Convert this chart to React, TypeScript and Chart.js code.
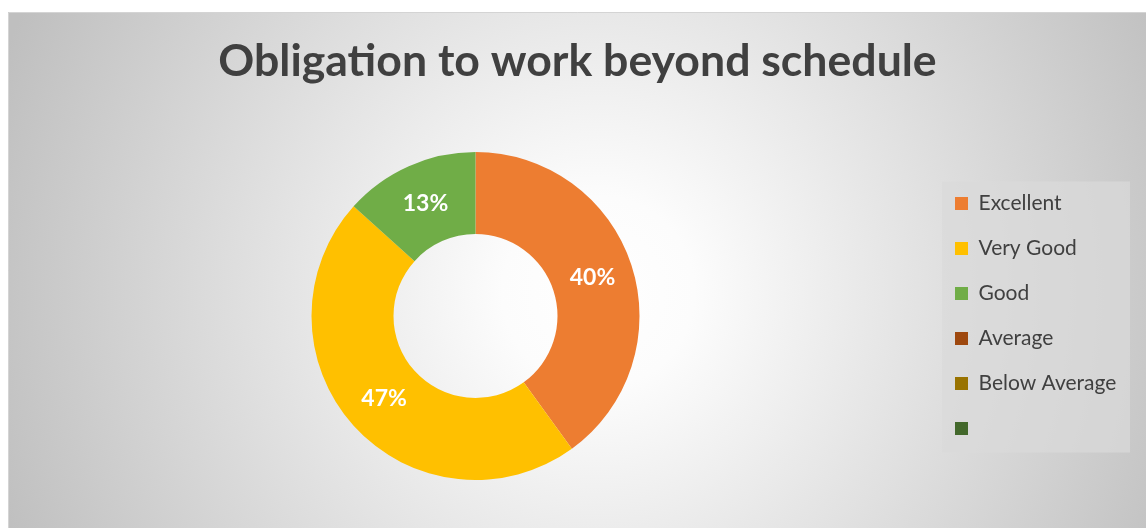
import React, { useEffect, useRef } from "react";
import { Chart, registerables } from "chart.js";
Chart.register(...registerables);

const TITLE = "Obligation to work beyond schedule";
const categories = ["Excellent", "Very Good", "Good", "Average", "Below Average", ""];
const counts = [12, 14, 4, 0, 0, 0];
const colors = ["#ED7D31", "#FFC000", "#70AD47", "#9E480E", "#997300", "#43682B"];

const W = 1138;
const H = 516;
const FONT = "Lato";

function measure(font: string, text: string): number {
  const c = document.createElement("canvas").getContext("2d") as CanvasRenderingContext2D;
  c.font = font;
  return c.measureText(text).width;
}

export default function App() {
  const ref = useRef<HTMLCanvasElement>(null);

  useEffect(() => {
    if (!ref.current) return;
    const titleW = measure(`bold 100px ${FONT}`, TITLE);
    const titleSize = Math.round((100 * 719) / titleW * 10) / 10;
    const titleLH = 1.2 * titleSize;
    const titlePadTop = 50 - titleLH / 2;
    const titlePadBottom = 140 - titlePadTop - titleLH;
    const titleCenter = 569.5;

    const legendSize = 21;
    const legendPadding = 24;
    const boxW = 13;
    const tw = Math.max(...categories.map((c) => measure(`${legendSize}px ${FONT}`, c)));
    const legendLeft = 923;
    const legendWidth = legendPadding + boxW + legendSize / 2 + tw + 10;
    const padRight = W - legendLeft - legendWidth;
    const padLeft = 2 * 467.5 - legendLeft;

    const bgPlugin = {
      id: "bg",
      afterLayout(chart: any) {
        const t = chart.titleBlock;
        if (t) {
          const half = Math.min(titleCenter - t.left, t.right - titleCenter);
          t.left = titleCenter - half;
          t.right = titleCenter + half;
        }
      },
      beforeDraw(chart: any) {
        const ctx = chart.ctx as CanvasRenderingContext2D;
        ctx.save();
        const cx = 590, cy = 280;
        const g = ctx.createRadialGradient(cx, cy, 0, cx, cy, 640);
        g.addColorStop(0, "#ffffff");
        g.addColorStop(0.15, "#fcfcfc");
        g.addColorStop(1, "#bfbfbf");
        ctx.fillStyle = g;
        ctx.fillRect(0, 0, chart.width, chart.height);
        ctx.strokeStyle = "#d4d4d4";
        ctx.lineWidth = 1;
        ctx.beginPath();
        ctx.moveTo(0.5, chart.height);
        ctx.lineTo(0.5, 0.5);
        ctx.lineTo(chart.width, 0.5);
        ctx.stroke();
        const lg = chart.legend;
        const hb = lg && lg.legendHitBoxes;
        if (hb && hb.length) {
          const first = hb[0];
          const last = hb[hb.length - 1];
          const x0 = first.left - 13;
          const x1 = first.left + 175;
          const y0 = first.top + first.height / 2 - 22;
          const y1 = last.top + last.height / 2 + 24;
          ctx.fillStyle = "rgba(217,217,217,0.72)";
          ctx.fillRect(x0, y0, x1 - x0, y1 - y0);
        }
        ctx.restore();
      },
    };

    const labelPlugin = {
      id: "pctLabels",
      afterDatasetsDraw(chart: any) {
        const ctx = chart.ctx as CanvasRenderingContext2D;
        const meta = chart.getDatasetMeta(0);
        const data = chart.data.datasets[0].data as number[];
        const total = data.reduce((a, b) => a + b, 0);
        ctx.save();
        ctx.fillStyle = "#ffffff";
        ctx.font = `bold 23px ${FONT}`;
        ctx.textAlign = "center";
        ctx.textBaseline = "middle";
        meta.data.forEach((arc: any, i: number) => {
          const v = data[i];
          if (!v) return;
          const p = arc.tooltipPosition(false);
          ctx.fillText(Math.round((v / total) * 100) + "%", p.x, p.y);
        });
        ctx.restore();
      },
    };

    const chart = new Chart(ref.current, {
      type: "doughnut",
      data: {
        labels: categories,
        datasets: [
          {
            data: counts,
            backgroundColor: colors,
            borderWidth: 0,
          },
        ],
      },
      options: {
        animation: false,
        responsive: true,
        maintainAspectRatio: false,
        events: [],
        cutout: "50%",
        rotation: 0,
        layout: {
          padding: { left: padLeft, right: padRight, top: 0, bottom: 48 },
        },
        plugins: {
          tooltip: { enabled: false },
          title: {
            display: true,
            text: TITLE,
            color: "#404040",
            font: { family: FONT, size: titleSize, weight: "bold", lineHeight: 1.2 },
            padding: { top: titlePadTop, bottom: titlePadBottom },
          },
          legend: {
            display: true,
            position: "right",
            fullSize: false,
            align: "center",
            labels: {
              boxWidth: boxW,
              boxHeight: boxW,
              padding: legendPadding,
              color: "#404040",
              font: { family: FONT, size: legendSize },
            },
          },
        },
      },
      plugins: [bgPlugin, labelPlugin],
    });
    return () => chart.destroy();
  }, []);

  return (
    <div style={{ position: "absolute", left: 8, top: 12, width: W, height: H }}>
      <canvas ref={ref} />
    </div>
  );
}
